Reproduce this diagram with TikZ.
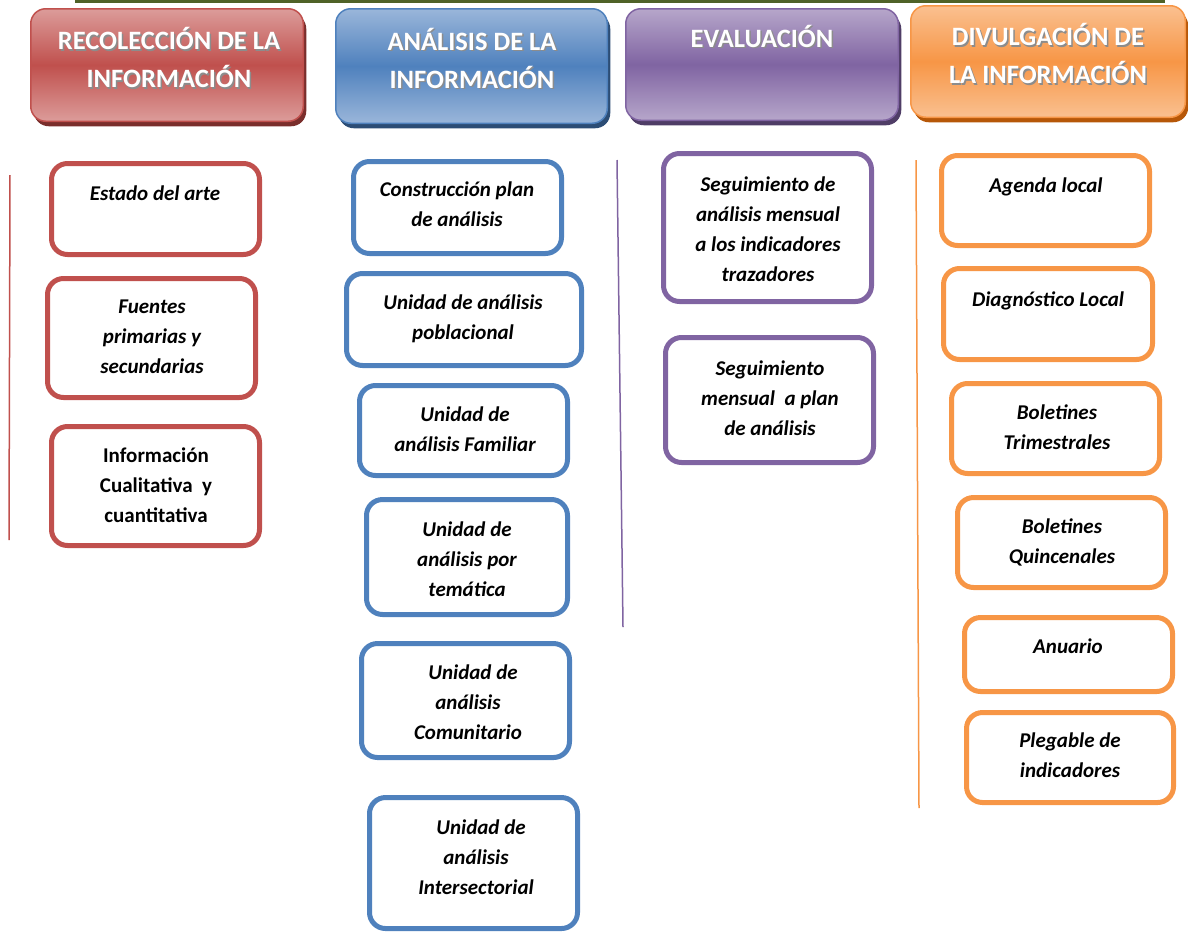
\documentclass[tikz,border=0pt]{standalone}
\usepackage{fontspec}
\setmainfont{Carlito}
\definecolor{cred}{HTML}{C0504D}
\definecolor{credl}{HTML}{DC9C9A}
\definecolor{credd}{HTML}{7A2E2C}
\definecolor{cblue}{HTML}{4F81BD}
\definecolor{cbluel}{HTML}{9AB6DA}
\definecolor{cblued}{HTML}{2C4D75}
\definecolor{cpur}{HTML}{8064A2}
\definecolor{cpurl}{HTML}{B6A6CA}
\definecolor{cpurd}{HTML}{4F3D66}
\definecolor{corg}{HTML}{F79646}
\definecolor{corgl}{HTML}{FAC090}
\definecolor{corgd}{HTML}{B65708}
\definecolor{colive}{HTML}{4F6228}
\tikzset{
  bbox/.style={rectangle, rounded corners=16pt, line width=5pt, fill=white, inner sep=0pt},
  btext/.style={align=center, inner sep=0pt, yshift=-2.5pt, font=\fontsize{21}{30}\selectfont\bfseries\itshape,
    execute at begin node={\rule{0pt}{16pt}}, execute at end node={\rule[-5pt]{0pt}{5pt}}},
  btextup/.style={btext, font=\fontsize{21}{30}\selectfont\bfseries},
  hbox/.style={rectangle, rounded corners=15pt, line width=1.5pt, inner sep=0pt},
  hshadow/.style={rectangle, rounded corners=15pt, inner sep=0pt},
  htext/.style={align=center, inner sep=0pt, text=white, font=\fontsize{26.5}{38}\selectfont\bfseries,
    execute at begin node={\rule{0pt}{21pt}}, execute at end node={\rule[-4pt]{0pt}{4pt}}},
  htshadow/.style={htext, text=black!45},
  vline/.style={line width=1.5pt},
}
\newcommand\bodybox[6]{%
  \pgfmathsetmacro\bw{#4-#2-5}\pgfmathsetmacro\bh{#5-#3-5}%
  \node[bbox, draw=#6, minimum width=\bw pt, minimum height=\bh pt] (#1) at ({(#2+#4)/2},{(#3+#5)/2}) {};}
\newcommand\headbox[8]{% name x1 y1 x2 y2 main light dark
  \pgfmathsetmacro\bw{#4-#2-1.5}\pgfmathsetmacro\bh{#5-#3-1.5}%
  \node[hshadow, fill=#8, minimum width=\bw pt, minimum height=\bh pt] (#1-sh) at ({(#2+#4)/2+3},{(#3+#5)/2+5}) {};
  \node[hbox, draw=#6, top color=#7, bottom color=#7, middle color=#6, minimum width=\bw pt, minimum height=\bh pt] (#1) at ({(#2+#4)/2},{(#3+#5)/2}) {};}
\begin{document}
\begin{tikzpicture}[x=1pt,y=-1pt]
\useasboundingbox (0,0) rectangle (1188,935);
% top line
\coordinate (tl1) at (75,1.5);
\coordinate (tl2) at (1165,1.5);
\draw[colive, line width=3pt] (tl1) -- (tl2);

% headers
\headbox{h1}{30}{8}{304}{122}{cred}{credl}{credd}
\headbox{h2}{335}{8}{608}{124}{cblue}{cbluel}{cblued}
\headbox{h3}{625}{8}{899}{121}{cpur}{cpurl}{cpurd}
\headbox{h4}{910}{5}{1186}{118}{corg}{corgl}{corgd}
\node[htshadow] (h1s) at (170.5,61) {RECOLECCIÓN DE LA\\INFORMACIÓN};
\node[htext] (h1t) at (169,59.5) {RECOLECCIÓN DE LA\\INFORMACIÓN};
\node[htshadow] (h2s) at (473.5,61.5) {ANÁLISIS DE LA\\INFORMACIÓN};
\node[htext] (h2t) at (472,60) {ANÁLISIS DE LA\\INFORMACIÓN};
\node[htshadow] (h3s) at (763.5,39.5) {EVALUACIÓN};
\node[htext] (h3t) at (762,38) {EVALUACIÓN};
\node[htshadow] (h4s) at (1049.5,57) {DIVULGACIÓN DE\\LA INFORMACIÓN};
\node[htext] (h4t) at (1048,55.5) {DIVULGACIÓN DE\\LA INFORMACIÓN};

% vertical lines
\coordinate (v1a) at (10,175); \coordinate (v1b) at (9,540);
\draw[vline, cred] (v1a) -- (v1b);
\coordinate (v3a) at (617,160); \coordinate (v3b) at (623,627);
\draw[vline, cpur] (v3a) -- (v3b);
\coordinate (v4a) at (916,160); \coordinate (v4b) at (919,808);
\draw[vline, corg] (v4a) -- (v4b);

% red column
\bodybox{r1}{49}{161}{262}{257}{cred}
\bodybox{r2}{45}{276}{258}{400}{cred}
\bodybox{r3}{49}{424}{262}{548}{cred}
\node[btext] (r1t) at (155,192) {Estado del arte};
\node[btext] (r2t) at (152,337) {Fuentes\\primarias y\\secundarias};
\node[btextup] (r3t) at (156,485.5) {Información\\Cualitativa\ \ y\\cuantitativa};

% blue column
\bodybox{b1}{351}{159}{564}{256}{cblue}
\bodybox{b2}{344}{271}{584}{368}{cblue}
\bodybox{b3}{357}{383}{570}{478}{cblue}
\bodybox{b4}{364}{497}{570}{617}{cblue}
\bodybox{b5}{359}{641}{572}{760}{cblue}
\bodybox{b6}{367}{795}{580}{931}{cblue}
\node[btext] (b1t) at (457,204.5) {Construcción plan\\de análisis};
\node[btext] (b2t) at (463,317) {Unidad de análisis\\poblacional};
\node[btext] (b3t) at (465,429) {Unidad de\\análisis Familiar};
\node[btext] (b4t) at (467,559) {Unidad de\\análisis por\\temática};
\node[btext] (b5t) at (468,702) {\hspace{10pt}Unidad de\\análisis\\Comunitario};
\node[btext] (b6t) at (476,857) {\hspace{10pt}Unidad de\\análisis\\Intersectorial};

% purple column
\bodybox{p1}{661}{151}{874}{304}{cpur}
\bodybox{p2}{663}{335}{876}{465}{cpur}
\node[btext] (p1t) at (768,229.5) {Seguimiento de\\análisis mensual\\a los indicadores\\trazadores};
\node[btext] (p2t) at (770,398.5) {Seguimiento\\mensual\ \ a plan\\de análisis};

% orange column
\bodybox{o1}{939}{153}{1152}{248}{corg}
\bodybox{o2}{941}{266}{1155}{362}{corg}
\bodybox{o3}{949}{381}{1162}{476}{corg}
\bodybox{o4}{955}{495}{1168}{590}{corg}
\bodybox{o5}{962}{615}{1175}{694}{corg}
\bodybox{o6}{964}{710}{1176}{805}{corg}
\node[btext] (o1t) at (1046,184) {Agenda local};
\node[btext] (o2t) at (1048,298) {Diagnóstico Local};
\node[btext] (o3t) at (1057,427) {Boletines\\Trimestrales};
\node[btext] (o4t) at (1062,541) {Boletines\\Quincenales};
\node[btext] (o5t) at (1068,645) {Anuario};
\node[btext] (o6t) at (1070,755) {Plegable de\\indicadores};
\end{tikzpicture}
\end{document}
